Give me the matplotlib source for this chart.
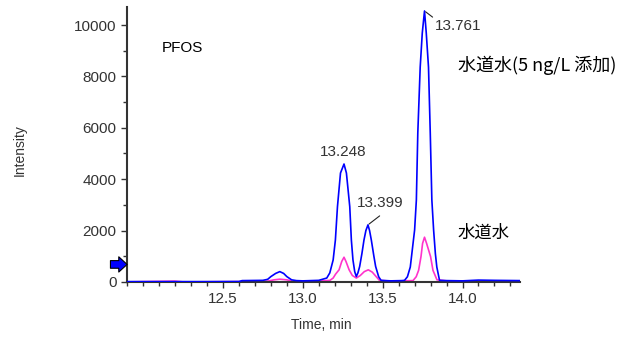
import matplotlib
matplotlib.use('Agg')
import matplotlib.pyplot as plt
from matplotlib.ticker import MultipleLocator, FormatStrFormatter

# blue trace: tap water spiked with 5 ng/L
t_blue = [11.90, 12.20, 12.40, 12.60, 12.62, 12.75, 12.78, 12.80, 12.83, 12.856,
          12.88, 12.90, 12.93, 12.96, 13.00, 13.10, 13.15, 13.169, 13.19, 13.204,
          13.217, 13.236, 13.258, 13.273, 13.294, 13.304, 13.314, 13.325, 13.335, 13.345,
          13.356, 13.37, 13.383, 13.395, 13.408, 13.418, 13.429, 13.445, 13.456, 13.475,
          13.49, 13.55, 13.62, 13.637, 13.655, 13.673, 13.70, 13.711, 13.72, 13.735,
          13.748, 13.762, 13.773, 13.787, 13.798, 13.808, 13.819, 13.83, 13.839, 13.856,
          13.90, 14.00, 14.10, 14.20, 14.36]
i_blue = [10, 10, 10, 15, 50, 60, 100, 206, 330, 400,
          330, 206, 80, 50, 40, 60, 150, 350, 855, 1630,
          2930, 4240, 4590, 4240, 2930, 1630, 855, 400, 210, 350,
          600, 1100, 1630, 2000, 2220, 2000, 1630, 1000, 600, 200,
          60, 40, 50, 60, 200, 580, 2020, 3190, 5800, 8360,
          9690, 10550, 9690, 8360, 5800, 3190, 2020, 1100, 580, 60,
          50, 40, 70, 60, 50]

# magenta trace: tap water
t_mag = [11.90, 12.20, 12.25, 12.60, 12.78, 12.82, 12.856, 12.90, 12.94, 13.00,
         13.10, 13.17, 13.19, 13.205, 13.227, 13.244, 13.258, 13.27, 13.29, 13.31,
         13.335, 13.36, 13.385, 13.41, 13.435, 13.46, 13.48, 13.55, 13.69, 13.71,
         13.725, 13.74, 13.75, 13.762, 13.775, 13.80, 13.815, 13.84, 13.90, 14.10,
         14.36]
i_mag = [0, 30, 0, 10, 30, 80, 105, 80, 20, 10,
         30, 60, 150, 300, 470, 800, 960, 800, 470, 250,
         150, 250, 400, 470, 380, 200, 60, 30, 50, 200,
         450, 985, 1500, 1740, 1500, 985, 450, 80, 40, 40,
         30]

# peak labels
peak_lbl = ['13.248', '13.399', '13.761']
peak_t = [13.258, 13.408, 13.762]
peak_i = [4590, 2220, 10550]

plt.rcParams['font.family'] = ['Liberation Sans', 'Noto Sans CJK JP', 'DejaVu Sans']

fig = plt.figure(figsize=(6.42, 3.38), dpi=100)
ax = fig.add_axes([0.198, 0.166, 0.612, 0.813])

ax.plot(t_mag, i_mag, color='#ff33cc', lw=1.2, zorder=2)
ax.plot(t_blue, i_blue, color='#0000ff', lw=1.2, zorder=3)

ax.set_xlim(11.9, 14.36)
ax.set_ylim(0, 10700)
ax.xaxis.set_minor_locator(MultipleLocator(0.1))
ax.set_xticks([12.5, 13.0, 13.5, 14.0])
ax.xaxis.set_major_formatter(FormatStrFormatter('%.1f'))
ax.yaxis.set_major_locator(MultipleLocator(2000))
ax.yaxis.set_minor_locator(MultipleLocator(1000))
for s in ['top', 'right']:
    ax.spines[s].set_visible(False)
for s in ['left', 'bottom']:
    ax.spines[s].set_color('#333333')
    ax.spines[s].set_linewidth(1.5)
ax.tick_params(which='major', length=4, width=1, color='#333333',
               labelsize=11, labelcolor='#333333')
ax.tick_params(which='minor', length=3, width=1, color='#333333')

# peak annotations with short leader lines
ax.text(13.25, 5070, peak_lbl[0], ha='center', va='center', fontsize=11, color='#333333')
ax.annotate('', xy=(peak_t[1], peak_i[1]), xytext=(13.481, 2570),
            arrowprops=dict(arrowstyle='-', color='#222222', lw=0.8,
                            shrinkA=0, shrinkB=1))
ax.text(13.487, 3070, peak_lbl[1], ha='center', va='center', fontsize=11, color='#333333')
ax.annotate('', xy=(peak_t[2], peak_i[2]), xytext=(13.8125, 10310),
            arrowprops=dict(arrowstyle='-', color='#222222', lw=0.8,
                            shrinkA=0, shrinkB=1))
ax.text(13.825, 9960, peak_lbl[2], ha='left', va='center', fontsize=11, color='#333333')

# blue arrow at left of y axis
ax.annotate('', xy=(11.9, 680), xytext=(-12, 0), textcoords='offset points',
            annotation_clip=False,
            arrowprops=dict(arrowstyle='simple,head_width=1.1,head_length=0.6,tail_width=0.55',
                            fc='#0000ff', ec='black', lw=0.8, shrinkA=0, shrinkB=0))

fig.text(0.252, 0.858, 'PFOS', fontsize=11, va='center')
fig.text(0.713, 0.808, '水道水(5 ng/L 添加)', fontsize=13, va='center',
         family=['Noto Sans CJK JP', 'DejaVu Sans'])
fig.text(0.713, 0.311, '水道水', fontsize=12.5, va='center',
         family=['Noto Sans CJK JP', 'DejaVu Sans'])
fig.text(0.031, 0.556, 'Intensity', fontsize=10, rotation=90,
         ha='center', va='center', color='#333333')
fig.text(0.50, 0.038, 'Time, min', fontsize=10, ha='center', va='center',
         color='#333333')

fig.savefig('out.png', dpi=100)
